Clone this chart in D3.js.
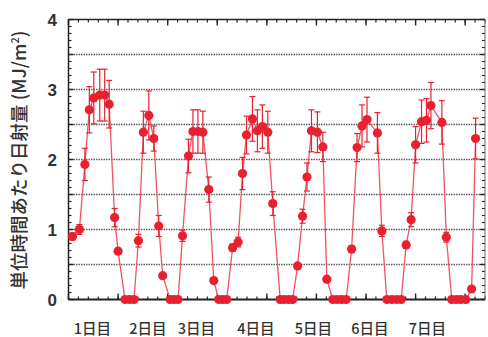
<!DOCTYPE html>
<html><head><meta charset="utf-8">
<script src="https://cdn.jsdelivr.net/npm/d3@7"></script>
<style>html,body{margin:0;padding:0;background:#fff;}svg{display:block;}</style>
</head><body>
<svg id="c" width="488" height="337"></svg>
<script>
// time index of each sample
const times = [0.8,2.2,3.3,4.2,5.1,6.3,7.3,8.2,9.3,10.0,11.4,12.3,13.2,
  14.1,15.1,16.2,17.2,18.2,19.0,20.5,21.3,22.1,
  23.0,24.2,25.1,26.1,27.1,28.3,29.3,30.3,31.1,31.9,
  33.1,34.2,35.1,35.9,37.1,38.1,39.1,40.2,41.2,42.7,43.5,44.4,45.2,
  46.2,47.2,48.1,49.0,50.2,51.3,52.1,53.3,54.2,55.1,56.0,
  57.1,58.2,59.2,60.2,62.3,63.2,64.2,65.2,66.2,67.1,
  68.1,69.1,70.0,71.2,72.2,73.1,75.3,76.2,77.3,78.2,79.1,80.1,
  81.3,82.1];
// solar radiation per unit time (MJ/m2)
const radiation = [0.90,1.00,1.93,2.71,2.88,2.92,2.92,2.79,1.17,0.69,0,0,0,
  0.84,2.39,2.63,2.30,1.05,0.34,0,0,0,
  0.91,2.05,2.40,2.40,2.39,1.57,0.27,0,0,0,
  0.74,0.82,1.80,2.35,2.58,2.41,2.47,2.39,1.37,0,0,0,0,
  0.48,1.19,1.75,2.41,2.39,2.18,0.29,0,0,0,0,
  0.72,2.17,2.48,2.57,2.38,0.98,0,0,0,0,
  0.78,1.14,2.21,2.54,2.56,2.77,2.53,0.89,0,0,0,0,
  0.15,2.30];
// standard deviation (error bar half-length)
const errors = [0.05,0.07,0.23,0.33,0.37,0.37,0.37,0.34,0.13,0.04,0,0,0,
  0.09,0.30,0.35,0.18,0.15,0.03,0,0,0,
  0.08,0.24,0.31,0.31,0.30,0.18,0.02,0,0,0,
  0.05,0.07,0.23,0.27,0.32,0.30,0.31,0.30,0.17,0,0,0,0,
  0.03,0.10,0.20,0.30,0.29,0.21,0.02,0,0,0,0,
  0.05,0.20,0.30,0.32,0.29,0.08,0,0,0,0,
  0.05,0.10,0.26,0.31,0.31,0.33,0.31,0.07,0,0,0,0,
  0.01,0.29];
const dayLabels = ["1日目","2日目","3日目","4日目","5日目","6日目","7日目"];
const dayLabelPos = [4.8,16.0,25.8,37.8,49.4,60.8,72.4];
const yTickLabels = [0,1,2,3,4];
const yGrid = [0.5,1,1.5,2,2.5,3,3.5];

const data = times.map((t,i)=>({t, v: radiation[i], e: errors[i]}));

const L=68.5, R=485, T=19.5, B=299.5;
const x = d3.scaleLinear().domain([0,84]).range([L,R]);
const y = d3.scaleLinear().domain([0,4]).range([B,T]);
const svg = d3.select("#c");

// gridlines
svg.append("g").selectAll("line").data(yGrid).join("line")
  .attr("x1",L).attr("x2",R).attr("y1",d=>y(d)).attr("y2",d=>y(d))
  .attr("stroke","#5e5e5e").attr("stroke-width",1.5).attr("stroke-dasharray","1.5,1");

// tick marks
const minorX = d3.range(0,85,2), majorX = d3.range(0,85,10);
function xTicks(yPos, dir){
  const g = svg.append("g");
  g.selectAll("line.mi").data(minorX).join("line").attr("class","mi")
    .attr("x1",d=>x(d)).attr("x2",d=>x(d)).attr("y1",yPos).attr("y2",yPos+dir*3)
    .attr("stroke","#222").attr("stroke-width",1.2);
  g.selectAll("line.ma").data(majorX).join("line").attr("class","ma")
    .attr("x1",d=>x(d)).attr("x2",d=>x(d)).attr("y1",yPos).attr("y2",yPos+dir*6)
    .attr("stroke","#222").attr("stroke-width",1.4);
}
xTicks(T,1); xTicks(B,-1);
const minorY = d3.range(0,41).map(i=>i/10), majorY = d3.range(0,9).map(i=>i/2);
function yTicks(xPos, dir){
  const g = svg.append("g");
  g.selectAll("line.mi").data(minorY).join("line").attr("class","mi")
    .attr("y1",d=>y(d)).attr("y2",d=>y(d)).attr("x1",xPos).attr("x2",xPos+dir*3)
    .attr("stroke","#222").attr("stroke-width",1.1);
  g.selectAll("line.ma").data(majorY).join("line").attr("class","ma")
    .attr("y1",d=>y(d)).attr("y2",d=>y(d)).attr("x1",xPos).attr("x2",xPos+dir*5)
    .attr("stroke","#222").attr("stroke-width",1.3);
}
yTicks(L,1); yTicks(R,-1);

// frame
svg.append("line").attr("x1",L).attr("x2",R).attr("y1",T).attr("y2",T).attr("stroke","#222").attr("stroke-width",1.5);
svg.append("line").attr("x1",L).attr("x2",R).attr("y1",B).attr("y2",B).attr("stroke","#222").attr("stroke-width",2);
svg.append("line").attr("x1",L).attr("x2",L).attr("y1",T).attr("y2",B).attr("stroke","#222").attr("stroke-width",1.5);
svg.append("line").attr("x1",R).attr("x2",R).attr("y1",T).attr("y2",B).attr("stroke","#666").attr("stroke-width",1);

// y tick labels
svg.append("g").selectAll("text").data(yTickLabels).join("text")
  .attr("x",57).attr("y",d=>y(d)).attr("dy","0.36em").attr("text-anchor","end")
  .attr("font-family","Liberation Sans, Arial, sans-serif").attr("font-weight","bold")
  .attr("font-size",17).attr("fill","#333").text(d=>d);

// day labels
svg.append("g").selectAll("text").data(dayLabels).join("text")
  .attr("x",(d,i)=>x(dayLabelPos[i])).attr("y",334).attr("text-anchor","middle")
  .attr("font-family","Noto Sans CJK JP, sans-serif").attr("font-size",14.5)
  .attr("font-weight",500).attr("fill","#333")
  .text(d=>d);

// y axis title
const yt = svg.append("text").attr("transform","translate(26,160) rotate(-90)")
  .attr("text-anchor","middle").attr("font-family","Noto Sans CJK JP, sans-serif")
  .attr("font-size",18.5).attr("font-weight",500).attr("fill","#333");
yt.append("tspan").text("単位時間あたり日射量 (MJ/m");
yt.append("tspan").attr("font-size",11).attr("dy","-7").text("2");
yt.append("tspan").attr("dy","7").text(")");

// line
const red = "#e8202f";
svg.append("path").datum(data)
  .attr("d", d3.line().x(d=>x(d.t)).y(d=>y(d.v)))
  .attr("fill","none").attr("stroke","#ee5560").attr("stroke-width",1.3);

// error bars
const eb = svg.append("g").attr("stroke",red).attr("stroke-width",1.2);
data.filter(d=>d.e>0).forEach(d=>{
  eb.append("line").attr("x1",x(d.t)).attr("x2",x(d.t)).attr("y1",y(d.v+d.e)).attr("y2",y(d.v-d.e));
  eb.append("line").attr("x1",x(d.t)-3).attr("x2",x(d.t)+3).attr("y1",y(d.v+d.e)).attr("y2",y(d.v+d.e));
  eb.append("line").attr("x1",x(d.t)-3).attr("x2",x(d.t)+3).attr("y1",y(d.v-d.e)).attr("y2",y(d.v-d.e));
});

// markers
svg.append("g").selectAll("circle").data(data).join("circle")
  .attr("cx",d=>x(d.t)).attr("cy",d=>y(d.v)).attr("r",4.6).attr("fill",red);
</script>
</body></html>
